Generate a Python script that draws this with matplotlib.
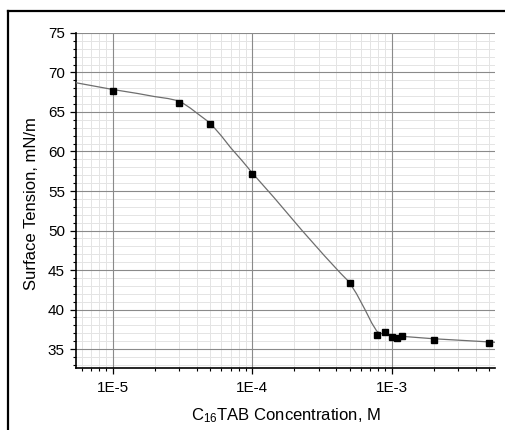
import numpy as np
import matplotlib.pyplot as plt
from matplotlib.ticker import MultipleLocator, LogLocator, NullFormatter
from matplotlib.lines import Line2D

plt.rcParams['font.family'] = ['Liberation Sans', 'DejaVu Sans']
plt.rcParams['mathtext.default'] = 'regular'

# measured points (concentration M, surface tension mN/m)
conc = [1e-5, 3e-5, 5e-5, 1e-4, 5e-4, 7.9e-4, 8.9e-4, 1.0e-3, 1.09e-3, 1.19e-3, 2e-3, 5e-3]
tension = [67.7, 66.2, 63.5, 57.2, 43.4, 36.8, 37.2, 36.5, 36.4, 36.6, 36.2, 35.8]

# fitted curve
fit_conc = [5.46e-6, 1e-5, 1.5e-5, 2e-5, 2.5e-5, 2.9e-5, 3.2e-5, 3.6e-5, 4.2e-5, 5e-5,
            6e-5, 7e-5, 8.5e-5, 1e-4, 1.43e-4, 2.28e-4, 3.3e-4, 4.3e-4, 4.95e-4, 5.6e-4,
            6.44e-4, 7.2e-4, 7.8e-4, 8.2e-4, 1e-3, 1.2e-3, 2e-3, 5e-3, 5.5e-3]
fit_tension = [68.7, 67.85, 67.35, 66.95, 66.7, 66.45, 66.1, 65.5, 64.6, 63.6,
               62.0, 60.5, 58.8, 57.3, 54.2, 50.0, 46.8, 44.6, 43.5, 42.0,
               40.0, 38.3, 37.3, 37.0, 36.75, 36.6, 36.3, 35.9, 35.85]

xticks = [1e-5, 1e-4, 1e-3]
xtick_labels = ['1E-5', '1E-4', '1E-3']
yticks = [35, 40, 45, 50, 55, 60, 65, 70, 75]

fig = plt.figure(figsize=(5.05, 4.30), dpi=100)
ax = fig.add_axes([0.1505, 0.1442, 0.8295, 0.7791])

ax.plot(fit_conc, fit_tension, color='#6e6e6e', lw=0.9, zorder=3)
ax.plot(conc, tension, ls='none', marker='s', ms=4.6, color='black', zorder=4)

ax.set_xscale('log')
ax.set_xlim(5.46e-6, 5.5e-3)
ax.set_ylim(32.6, 75)

ax.set_xticks(xticks)
ax.set_xticklabels(xtick_labels)
ax.xaxis.set_minor_locator(LogLocator(base=10, subs=np.arange(2, 10)))
ax.xaxis.set_minor_formatter(NullFormatter())
ax.set_yticks(yticks)
ax.yaxis.set_minor_locator(MultipleLocator(1))

# light minor grid first, darker major grid on top of it
for xv in ax.get_xticks(minor=True):
    ax.axvline(xv, color='#e4e4e4', lw=0.7, zorder=0.5)
for yv in ax.get_yticks(minor=True):
    if yv <= 75:
        ax.axhline(yv, color='#e4e4e4', lw=0.7, zorder=0.5)
for xv in xticks:
    ax.axvline(xv, color='#8a8a8a', lw=0.8, zorder=1)
for yv in yticks:
    ax.axhline(yv, color='#8a8a8a', lw=0.8, zorder=1)

for s in ['top', 'right']:
    ax.spines[s].set_visible(False)
for s in ['left', 'bottom']:
    ax.spines[s].set_linewidth(1.2)

ax.tick_params(which='major', direction='out', length=4.5, width=0.9, labelsize=11, pad=3.5)
ax.tick_params(which='minor', direction='out', length=2.5, width=0.8)
ax.tick_params(axis='x', which='major', pad=5)

ax.set_ylabel('Surface Tension, mN/m', fontsize=12)
ax.yaxis.set_label_coords(-0.088, 0.49)
ax.set_xlabel('C$_{16}$TAB Concentration, M', fontsize=12)
ax.xaxis.set_label_coords(0.5, -0.115)

# frame lines on top and left edge of the picture
fig.add_artist(Line2D([8 / 505, 1], [1 - 10.5 / 430] * 2, color='black', lw=1.6))
fig.add_artist(Line2D([8 / 505] * 2, [0, 1 - 10.5 / 430], color='black', lw=1.6))

fig.savefig('out.png', dpi=100)
